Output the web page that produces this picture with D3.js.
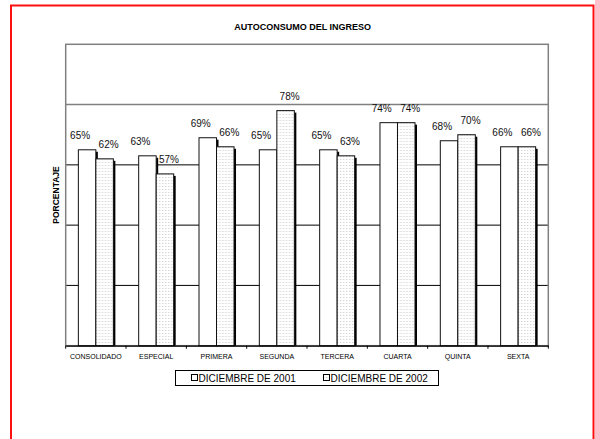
<!DOCTYPE html>
<html>
<head>
<meta charset="utf-8">
<script src="https://cdn.jsdelivr.net/npm/d3@7"></script>
<style>
    body { margin: 0; background: #fff; }
    svg { display: block; font-family: "Liberation Sans", Arial, sans-serif; }
</style>
</head>
<body>
<div id="chart"></div>
<script>
const categories = ['CONSOLIDADO', 'ESPECIAL', 'PRIMERA', 'SEGUNDA', 'TERCERA', 'CUARTA', 'QUINTA', 'SEXTA'];
const seriesNames = ['DICIEMBRE DE 2001', 'DICIEMBRE DE 2002'];
const values2001 = [65, 63, 69, 65, 65, 74, 68, 66];
const values2002 = [62, 57, 66, 78, 63, 74, 70, 66];
const gridValues = [20, 40, 60];

const width = 595;
const height = 439;
const plot = { left: 65.7, right: 548.3, top: 44.3, bottom: 345.7 };

const svg = d3.select('#chart')
    .append('svg')
    .attr('width', width)
    .attr('height', height);

const defs = svg.append('defs');
const pat = defs.append('pattern')
    .attr('id', 'dots')
    .attr('patternUnits', 'userSpaceOnUse')
    .attr('width', 3)
    .attr('height', 3);
pat.append('rect').attr('width', 3).attr('height', 3).attr('fill', '#fff');
pat.append('rect').attr('width', 1).attr('height', 1).attr('fill', '#d6d6d6');
pat.append('rect').attr('x', 1).attr('width', 1).attr('height', 1).attr('fill', '#eeeeee');

// outer red frame
svg.append('rect')
    .attr('x', 11)
    .attr('y', 5.5)
    .attr('width', 582.5)
    .attr('height', 450)
    .attr('fill', 'none')
    .attr('stroke', '#ff1010')
    .attr('stroke-width', 2);

svg.append('text')
    .attr('x', 302.7)
    .attr('y', 30)
    .attr('text-anchor', 'middle')
    .attr('font-size', '9px')
    .attr('font-weight', 'bold')
    .text('AUTOCONSUMO DEL INGRESO');

const x0 = d3.scaleBand()
    .domain(categories)
    .range([plot.left, plot.right]);

const x1 = d3.scaleBand()
    .domain(seriesNames)
    .range([0, x0.bandwidth()])
    .paddingOuter(0.723);

const y = d3.scaleLinear()
    .domain([0, 100])
    .range([plot.bottom, plot.top]);

// grid lines
svg.append('g')
    .selectAll('line')
    .data(gridValues)
    .enter()
    .append('line')
    .attr('x1', plot.left)
    .attr('x2', plot.right)
    .attr('y1', d => y(d))
    .attr('y2', d => y(d))
    .attr('stroke', '#000')
    .attr('stroke-width', 1);

svg.append('line')
    .attr('x1', plot.left)
    .attr('x2', plot.right)
    .attr('y1', y(80))
    .attr('y2', y(80))
    .attr('stroke', '#808080')
    .attr('stroke-width', 1.5);

// plot border
svg.append('rect')
    .attr('x', plot.left)
    .attr('y', plot.top)
    .attr('width', plot.right - plot.left)
    .attr('height', plot.bottom - plot.top)
    .attr('fill', 'none')
    .attr('stroke', '#808080')
    .attr('stroke-width', 1.5);

const rows = categories.map((c, i) => ({
    cat: c,
    vals: [
        { series: seriesNames[0], value: values2001[i] },
        { series: seriesNames[1], value: values2002[i] }
    ]
}));

const groups = svg.append('g')
    .selectAll('g')
    .data(rows)
    .enter()
    .append('g')
    .attr('transform', d => `translate(${x0(d.cat)},0)`);

// shadows first
groups.selectAll('.shadow')
    .data(d => d.vals)
    .enter()
    .append('rect')
    .attr('class', 'shadow')
    .attr('x', d => x1(d.series) + 2)
    .attr('y', d => y(d.value) + 2)
    .attr('width', x1.bandwidth())
    .attr('height', d => plot.bottom - y(d.value) - 2)
    .attr('fill', '#000');

groups.selectAll('.bar')
    .data(d => d.vals)
    .enter()
    .append('rect')
    .attr('class', 'bar')
    .attr('x', d => x1(d.series))
    .attr('y', d => y(d.value))
    .attr('width', x1.bandwidth())
    .attr('height', d => plot.bottom - y(d.value))
    .attr('fill', (d, i) => i === 0 ? '#fff' : 'url(#dots)')
    .attr('stroke', '#111')
    .attr('stroke-width', 1);

groups.selectAll('.lbl')
    .data(d => d.vals)
    .enter()
    .append('text')
    .attr('class', 'lbl')
    .attr('x', (d, i) => x1(d.series) + x1.bandwidth() / 2 + (i === 0 ? -7 : 4))
    .attr('y', d => y(d.value) - 11)
    .attr('text-anchor', 'middle')
    .attr('font-size', '10px')
    .attr('fill', '#111')
    .text(d => d.value + '%');

// x axis
const xAxis = d3.axisBottom(x0)
    .tickSize(0)
    .tickPadding(8);

const axisG = svg.append('g')
    .attr('transform', `translate(0,${plot.bottom})`)
    .call(xAxis);
axisG.select('.domain').attr('stroke', '#000').attr('stroke-width', 1.2);
axisG.selectAll('text')
    .attr('font-size', '7px')
    .attr('font-family', '"Liberation Sans", Arial, sans-serif')
    .attr('fill', '#000');

const bounds = categories.map(c => x0(c)).concat([plot.right]);
svg.append('g')
    .selectAll('line')
    .data(bounds)
    .enter()
    .append('line')
    .attr('x1', d => d)
    .attr('x2', d => d)
    .attr('y1', plot.bottom)
    .attr('y2', plot.bottom + 3)
    .attr('stroke', '#000');

svg.append('text')
    .attr('transform', `translate(59,195) rotate(-90)`)
    .attr('text-anchor', 'middle')
    .attr('font-size', '8.5px')
    .attr('font-weight', 'bold')
    .text('PORCENTAJE');

// legend
svg.append('rect')
    .attr('x', 175.5)
    .attr('y', 370.5)
    .attr('width', 263)
    .attr('height', 15)
    .attr('fill', '#fff')
    .attr('stroke', '#000')
    .attr('stroke-width', 1);

const legendX = [191, 323];
const legend = svg.append('g')
    .selectAll('g')
    .data(seriesNames)
    .enter()
    .append('g')
    .attr('transform', (d, i) => `translate(${legendX[i]},374)`);

legend.append('rect')
    .attr('x', 0.5)
    .attr('y', 0.5)
    .attr('width', 6)
    .attr('height', 6)
    .attr('fill', (d, i) => i === 0 ? '#fff' : 'url(#dots)')
    .attr('stroke', '#000');

legend.append('text')
    .attr('x', 7.5)
    .attr('y', 7.5)
    .attr('font-size', '10px')
    .text(d => d);
</script>
</body>
</html>
